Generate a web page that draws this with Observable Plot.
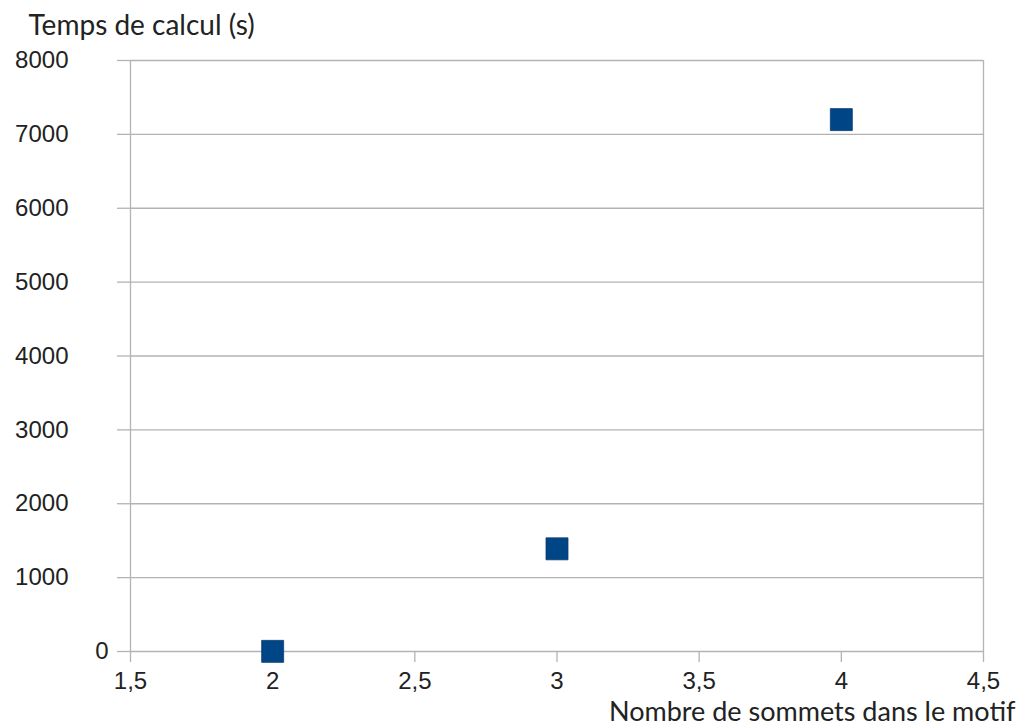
<!DOCTYPE html>
<html>
<head>
<meta charset="utf-8">
<script src="https://cdn.jsdelivr.net/npm/d3@7"></script>
<script src="https://cdn.jsdelivr.net/npm/@observablehq/plot@0.6"></script>
<style>
  html, body { margin: 0; padding: 0; background: #fff; }
  #chart svg { display: block; }
</style>
</head>
<body>
<div id="chart"></div>
<script>
// Data
const sommets = [2, 3, 4];
const temps = [2, 1390, 7200];
const xTicks = [1.5, 2, 2.5, 3, 3.5, 4, 4.5];
const yTicks = [0, 1000, 2000, 3000, 4000, 5000, 6000, 7000, 8000];
const yTitle = "Temps de calcul (s)";
const xTitle = "Nombre de sommets dans le motif";

const data = sommets.map((s, i) => ({x: s, y: temps[i]}));
const fmtX = d => String(d).replace(".", ",");
const fmtY = d => String(d);
const grid = "#b3b3b3";

const chart = Plot.plot({
  width: 1020,
  height: 726,
  marginLeft: 130,
  marginRight: 37,
  marginTop: 60,
  marginBottom: 75,
  style: {fontFamily: "'Liberation Sans', Arial, sans-serif", fontSize: "24px", color: "#222", background: "#fff"},
  x: {domain: [1.5, 4.5]},
  y: {domain: [0, 8000]},
  marks: [
    Plot.gridY(yTicks, {stroke: grid, strokeOpacity: 1, strokeWidth: 1.3}),
    Plot.ruleX([1.5, 4.5], {stroke: grid, strokeWidth: 1.3}),
    Plot.axisY(yTicks.filter(d => d !== 0), {tickSize: 13, tickPadding: 49, tickFormat: fmtY, stroke: grid, strokeWidth: 1.3, label: null, fill: "#222"}),
    Plot.axisY([0], {tickSize: 13, tickPadding: 9, tickFormat: fmtY, stroke: grid, strokeWidth: 1.3, label: null, fill: "#222"}),
    Plot.axisX(xTicks, {tickSize: 11, tickPadding: 9, tickFormat: fmtX, stroke: grid, strokeWidth: 1.3, label: null, fill: "#222"}),
    Plot.dot(data, {x: "x", y: "y", symbol: "square", r: 12.4, fill: "#004586", stroke: "#0a3d70", strokeWidth: 0.8}),
    Plot.text([yTitle], {frameAnchor: "top-left", dx: -102, dy: -26, textAnchor: "start", lineAnchor: "bottom", fontFamily: "Lato, sans-serif", fontSize: 28, fill: "#222"}),
    Plot.text([xTitle], {frameAnchor: "bottom-right", dx: 32, dy: 69, textAnchor: "end", lineAnchor: "bottom", fontFamily: "Lato, sans-serif", fontSize: 27, fill: "#222"})
  ]
});
document.getElementById("chart").appendChild(chart);
</script>
</body>
</html>
